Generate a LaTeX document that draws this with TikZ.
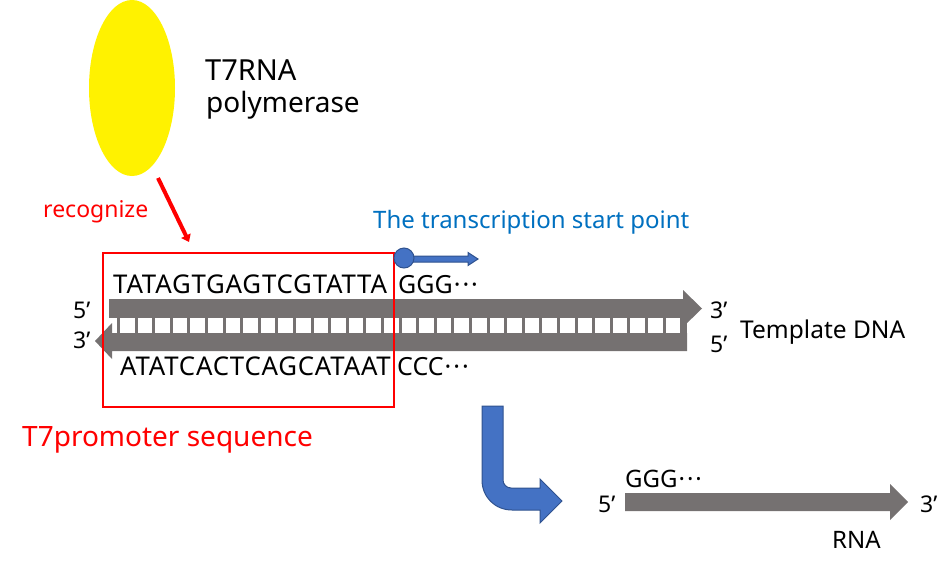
\documentclass[tikz,border=0pt]{standalone}
\usepackage{fontspec}
\setmainfont{Noto Sans}
\usepackage{xcolor}
\usepackage{tikz}
\usetikzlibrary{positioning,arrows.meta,shapes.geometric}
\definecolor{strandgray}{RGB}{117,113,113}
\definecolor{blockblue}{RGB}{68,114,196}
\definecolor{blockedge}{RGB}{47,82,143}
\definecolor{labelblue}{RGB}{0,112,192}
\newcommand{\middots}{\kern1pt·\kern2pt·\kern2pt·}
\def\upperstrand{(109,299) -- (683,299) -- (683,290) -- (702,308.5) -- (683,327) -- (683,317) -- (109,317) -- cycle}
\def\lowerstrand{(687,333) -- (687,351) -- (112,351) -- (112,359) -- (95,341) -- (112,323) -- (112,333) -- cycle}
\def\ladder{(109,316) rectangle (687,334)}
\def\rnastrand{(625,493) -- (890,493) -- (890,484) -- (908,502) -- (890,520) -- (890,511) -- (625,511) -- cycle}
\def\bentarrow{(482,406) -- (482,480) .. controls (482,497) and (495,510) .. (512,510) -- (540,510) -- (540,523) -- (562,501) -- (540,479) -- (540,488) -- (511,488) .. controls (506.6,488) and (503,484.4) .. (503,480) -- (503,406) -- cycle}
\def\tssshaft{(412,256) -- (468,256) -- (468,252.5) -- (478,259) -- (468,265.5) -- (468,262) -- (412,262) -- cycle}
\tikzset{
txt/.style={anchor=base west, inner sep=0pt, font=\fontsize{#1}{#1}\selectfont},
seq/.style={txt=#1, font=\fontsize{#1}{#1}\selectfont\addfontfeature{LetterSpace=3}},
blockarrow/.style={fill=blockblue, draw=blockedge, line width=1pt},
recarrow/.style={draw=red, line width=4pt, -{Triangle[length=7pt,width=10pt]}}
}

\begin{document}
\begin{tikzpicture}[x=1pt,y=-1pt,fill=strandgray]
	\useasboundingbox (0,0) rectangle (952,568);
	\node[ellipse, fill=yellow, minimum width=86, minimum height=176, inner sep=0] (pol) at (132,88) {};
	\node[txt=29] (polname) at (205,80) {T7RNA};
	\node[txt=28] (polname2) at (206,112) {polymerase};
	\coordinate (recstart) at (158,178);
	\coordinate (recend) at (189,242);
	\draw[recarrow] (recstart) -- (recend);
	\node[txt=23, text=red] (reclabel) at (43,217) {recognize};
	\node[txt=24, text=labelblue] (tsslabel) at (373,228) {The transcription start point};
	% double strand
	\fill \ladder;
	\foreach \i in {-1,...,31}
		\fill[white] ({120+17.6*\i},317.5) rectangle ++(14.5,15);
	\fill \upperstrand;
	\fill \lowerstrand;
	\node[draw=red, line width=1.6pt, minimum width=291, minimum height=154, inner sep=0] (promoter) at (248.5,330) {};
	\filldraw[blockarrow] \tssshaft;
	\node[circle, blockarrow, minimum size=20, inner sep=0] (tss) at (404,258) {};
	\node[seq=25.8] (topseq) at (113,293) {TATAGTGAGTCGTATTA};
	\node[txt=25] (topggg) at (398,293) {GGG\middots};
	\node[seq=25.8] (botseq) at (120,375) {ATATCACTCAGCATAAT};
	\node[txt=25] (botccc) at (397,375) {CCC\middots};
	\node[txt=23] (up5) at (73,318) {5’};
	\node[txt=23] (lo3) at (73,348) {3’};
	\node[txt=23] (up3) at (710,318) {3’};
	\node[txt=23] (lo5) at (710,352) {5’};
	\node[txt=24.5] (dnalabel) at (740,338) {Template DNA};
	\node[txt=28, text=red] (prolabel) at (22,446) {T7promoter sequence};
	% transcription
	\filldraw[blockarrow] \bentarrow;
	\fill \rnastrand;
	\node[txt=24] (rnaggg) at (625,487) {GGG\middots};
	\node[txt=23] (rna5) at (598,512) {5’};
	\node[txt=23] (rna3) at (920,512) {3’};
	\node[txt=24] (rnalabel) at (832,548) {RNA};
\end{tikzpicture}
\end{document}
